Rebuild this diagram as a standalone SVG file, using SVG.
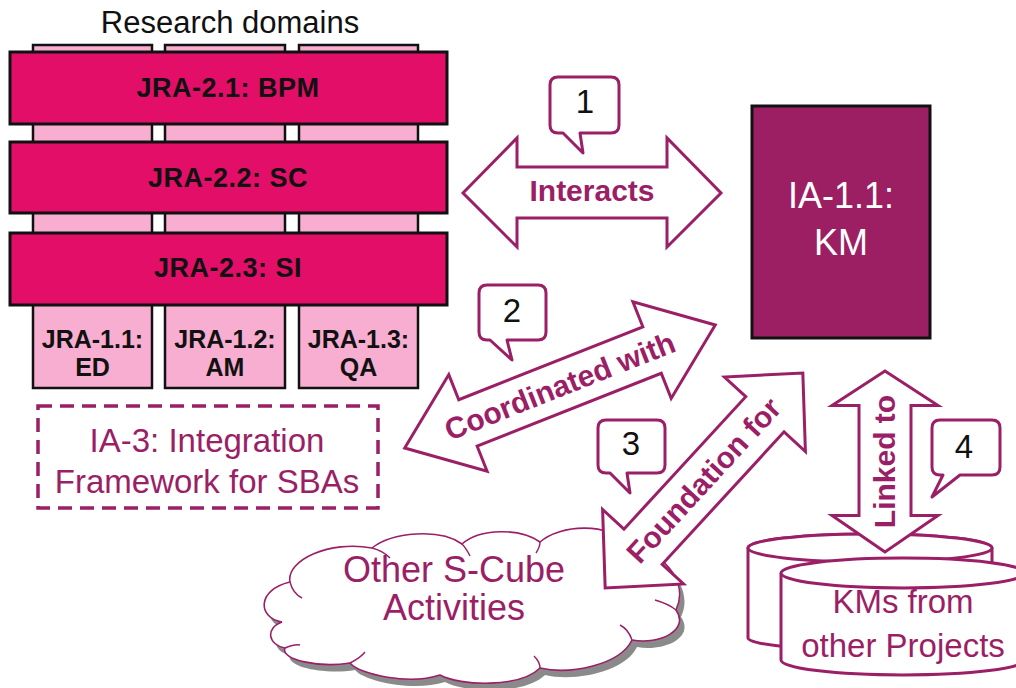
<svg xmlns="http://www.w3.org/2000/svg" width="1016" height="688" viewBox="0 0 1016 688">
<style>
.col{fill:#F8AED0;stroke:#111;stroke-width:2.5}
.bar{fill:#E20E68;stroke:#111;stroke-width:3}
.bt{font-family:"Liberation Sans",Arial,sans-serif;font-weight:bold;font-size:27px;fill:#111;text-anchor:middle;letter-spacing:0.5px}
.ct{font-family:"Liberation Sans",Arial,sans-serif;font-weight:bold;font-size:25px;fill:#111;text-anchor:middle}
.pt{font-family:"Liberation Sans",Arial,sans-serif;fill:#9B1F66;text-anchor:middle}
.arr{fill:#fff;stroke:#9B1F66;stroke-width:3;stroke-linejoin:miter}
.al{font-family:"Liberation Sans",Arial,sans-serif;font-weight:bold;font-size:30px;fill:#9B1F66;text-anchor:middle}
.call{fill:#fff;stroke:#9B1F66;stroke-width:3;stroke-linejoin:round}
.num{font-family:"Liberation Sans",Arial,sans-serif;font-size:33px;fill:#111;text-anchor:middle}
.cyl{fill:#fff;stroke:#9B1F66;stroke-width:3}
</style>
<rect width="1016" height="688" fill="#fff"/>
<text x="230" y="33" font-family="Liberation Sans, Arial, sans-serif" font-size="31" fill="#111" text-anchor="middle">Research domains</text>

<g id="jra-1-1"><rect class="col" x="33" y="45" width="119" height="343"/><text class="ct" x="92.5" y="348">JRA-1.1:</text><text class="ct" x="92.5" y="376">ED</text></g>
<g id="jra-1-2"><rect class="col" x="165" y="45" width="120" height="343"/><text class="ct" x="225" y="348">JRA-1.2:</text><text class="ct" x="225" y="376">AM</text></g>
<g id="jra-1-3"><rect class="col" x="299" y="45" width="119" height="343"/><text class="ct" x="358.5" y="348">JRA-1.3:</text><text class="ct" x="358.5" y="376">QA</text></g>

<g id="jra-2-1"><rect class="bar" x="10" y="52" width="437" height="72"/><text class="bt" x="228" y="97">JRA-2.1: BPM</text></g>
<g id="jra-2-2"><rect class="bar" x="10" y="142" width="437" height="71"/><text class="bt" x="228" y="187">JRA-2.2: SC</text></g>
<g id="jra-2-3"><rect class="bar" x="10" y="233" width="437" height="72"/><text class="bt" x="228" y="277">JRA-2.3: SI</text></g>

<g id="ia-3"><rect x="38" y="406" width="340" height="102" fill="none" stroke="#9B1F66" stroke-width="3.5" stroke-dasharray="14,8"/>
<text class="pt" x="207" y="452" font-size="33">IA-3: Integration</text><text class="pt" x="207" y="493" font-size="33">Framework for SBAs</text></g>

<g id="ia-1-1"><rect x="752" y="106" width="178" height="232" fill="#9C1F64" stroke="#111" stroke-width="3"/>
<text x="841" y="208" font-family="Liberation Sans, Arial, sans-serif" font-size="36" fill="#fff" text-anchor="middle">IA-1.1:</text>
<text x="841" y="255" font-family="Liberation Sans, Arial, sans-serif" font-size="36" fill="#fff" text-anchor="middle">KM</text></g>

<g id="other-activities">
<path transform="translate(5,7)" fill="#8a8a8a" d="M282,622 C258,618 256,590 290,582 C286,560 330,540 372,548 C392,532 440,528 462,544 C480,528 520,528 540,542 C560,524 610,522 628,545 C660,550 690,580 676,610 C690,630 660,645 632,640 C620,665 570,675 540,668 C520,688 460,686 440,675 C410,685 360,675 350,663 C320,668 280,660 285,648 C268,645 265,628 282,622 Z"/>
<path fill="#fff" stroke="#9B1F66" stroke-width="1.6" d="M282,622 C258,618 256,590 290,582 C286,560 330,540 372,548 C392,532 440,528 462,544 C480,528 520,528 540,542 C560,524 610,522 628,545 C660,550 690,580 676,610 C690,630 660,645 632,640 C620,665 570,675 540,668 C520,688 460,686 440,675 C410,685 360,675 350,663 C320,668 280,660 285,648 C268,645 265,628 282,622 Z"/>
<path fill="none" stroke="#9B1F66" stroke-width="1.4" d="M290,582 C292,590 296,595 302,598 M372,548 C380,550 386,554 390,558 M462,544 C466,548 468,552 470,556 M540,542 C540,546 538,550 536,553 M676,610 C670,605 662,602 655,600 M632,640 C630,634 626,628 620,625 M540,668 C540,664 538,660 534,656 M350,663 C356,660 362,656 365,652 M285,648 C290,646 296,644 300,645"/>
<text class="pt" x="454" y="582" font-size="36">Other S-Cube</text>
<text class="pt" x="454" y="620" font-size="36">Activities</text>
</g>

<g id="km-other-back">
<path class="cyl" d="M748,548 A122,14 0 0 1 992,548 V638 A122,12 0 0 1 748,638 Z"/>
<ellipse class="cyl" cx="870" cy="548" rx="122" ry="14"/>
</g>

<g id="connectors">
<path class="arr" d="M463,193 L517,138 L517,167 L667,167 L667,138 L721,193 L667,247 L667,218 L517,218 L517,247 Z"/>
<text class="al" x="592" y="201">Interacts</text>
<g transform="translate(560,386.5) rotate(-21.6)">
<path class="arr" d="M-167,0 L-99,-52 L-99,-25 L99,-25 L99,-52 L167,0 L99,52 L99,25 L-99,25 L-99,52 Z"/>
<text class="al" x="0" y="10">Coordinated with</text></g>
<g transform="translate(704,480.5) rotate(-47.4)">
<path class="arr" d="M-146,0 L-90,-55 L-90,-26 L90,-26 L90,-55 L146,0 L90,55 L90,26 L-90,26 L-90,55 Z"/>
<text class="al" x="0" y="10">Foundation for</text></g>
<g transform="translate(885,461.5) rotate(-90)">
<path class="arr" d="M-90.5,0 L-54,-53 L-54,-26 L56,-26 L56,-53 L90.5,0 L56,53 L56,26 L-54,26 L-54,53 Z"/>
<text class="al" x="0" y="10">Linked to</text></g>
</g>

<g id="km-other">
<path class="cyl" d="M781,573 V660 A122,15 0 0 0 1025,660 V573"/>
<ellipse class="cyl" cx="903" cy="573" rx="122" ry="15"/>
<text class="pt" x="903" y="613" font-size="33">KMs from</text>
<text class="pt" x="903" y="657" font-size="33">other Projects</text>
</g>

<g id="callout-1"><path class="call" d="M558,77 H611 Q619,77 619,85 V125 Q619,133 611,133 H580 L583,153 L563,133 H558 Q550,133 550,125 V85 Q550,77 558,77 Z"/><text class="num" x="585" y="113">1</text></g>
<g id="callout-2"><path class="call" d="M487,285 H538 Q546,285 546,293 V332 Q546,340 538,340 H507 L512,360 L490,340 H487 Q479,340 479,332 V293 Q479,285 487,285 Z"/><text class="num" x="512" y="322">2</text></g>
<g id="callout-3"><path class="call" d="M606,420 H657 Q665,420 665,428 V465 Q665,473 657,473 H627 L630,493 L610,473 H606 Q598,473 598,465 V428 Q598,420 606,420 Z"/><text class="num" x="631" y="455">3</text></g>
<g id="callout-4"><path class="call" d="M940,420 H992 Q1000,420 1000,428 V467 Q1000,475 992,475 H960 L932,497 L943,475 H940 Q932,475 932,467 V428 Q932,420 940,420 Z"/><text class="num" x="964" y="458">4</text></g>
</svg>
